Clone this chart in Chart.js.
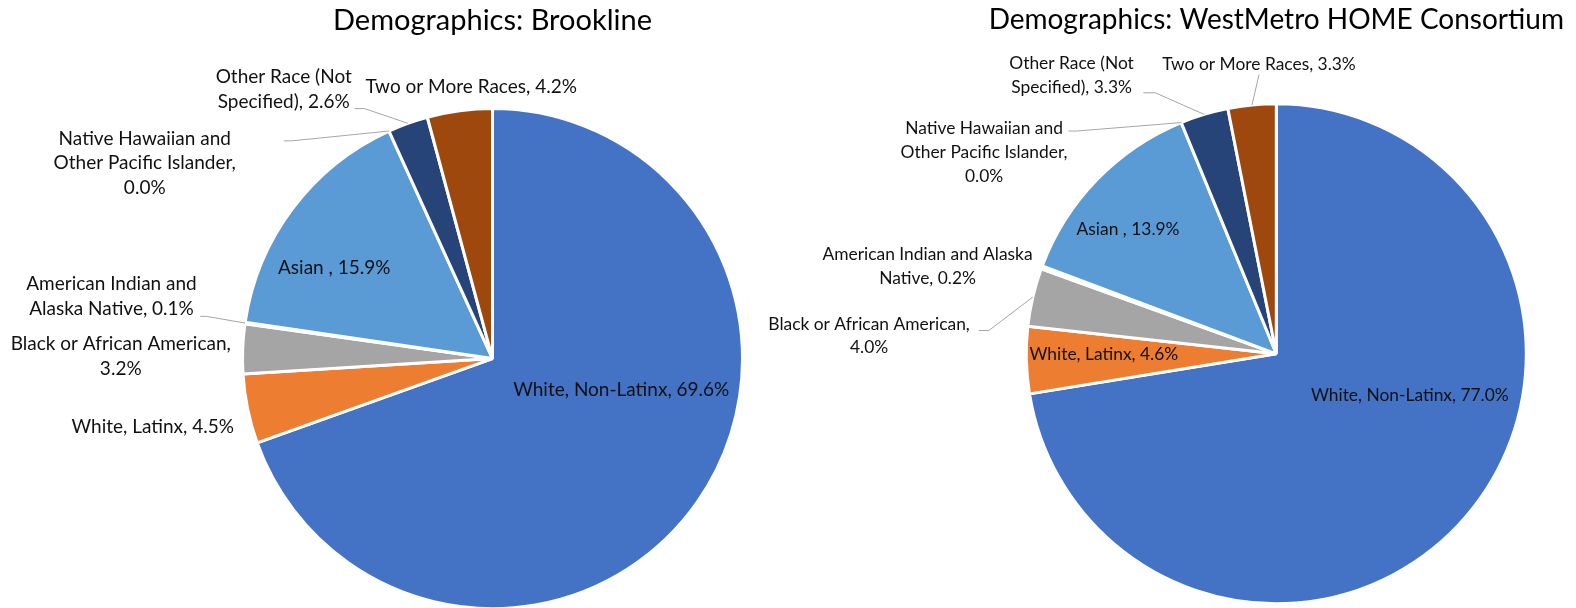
<!DOCTYPE html>
<html>
<head>
<meta charset="utf-8">
<script src="https://cdn.jsdelivr.net/npm/chart.js@4/dist/chart.umd.min.js"></script>
<style>
  body { margin: 0; background: #fff; overflow: hidden; }
  .wrap { position: absolute; top: 0; }
</style>
</head>
<body>
<div class="wrap" style="left:0;width:788px;height:612px"><canvas id="brookline"></canvas></div>
<div class="wrap" style="left:700px;width:876px;height:608px"><canvas id="westmetro"></canvas></div>
<script>
"use strict";
const categories = [
    'White, Non-Latinx',
    'White, Latinx',
    'Black or African American',
    'American Indian and Alaska Native',
    'Asian ',
    'Native Hawaiian and Other Pacific Islander',
    'Other Race (Not Specified)',
    'Two or More Races'
];
const brooklineValues = [69.6, 4.5, 3.2, 0.1, 15.9, 0.0, 2.6, 4.2];
const westMetroValues = [77.0, 4.6, 4.0, 0.2, 13.9, 0.0, 3.3, 3.3];
const sliceColors = ['#4472C4', '#ED7D31', '#A5A5A5', '#FFC000', '#5B9BD5', '#70AD47', '#264478', '#9E480E'];

const FONT = 'Lato, "Open Sans", sans-serif';

// label placement, in units of the pie radius from its centre
// br = word counts where a line breaks, from = leader line start
const brooklinePlace = [
    { at: [0.515, 0.126] },
    { at: [-1.359, 0.274] },
    { at: [-1.487, -0.010], br: [4] },
    { at: [-1.524, -0.250], br: [3], from: [-1.169, -0.169], stub: 6 },
    { at: [-0.633, -0.363] },
    { at: [-1.391, -0.782], br: [3, 6], from: [-0.835, -0.871], stub: 8 },
    { at: [-0.835, -1.077], br: [3], from: [-0.552, -1.0], stub: 10 },
    { at: [-0.085, -1.087] }
];
const westMetroPlace = [
    { at: [0.534, 0.166] },
    { at: [-0.690, 0.004] },
    { at: [-1.629, -0.071], br: [4], from: [-1.190, -0.093], stub: 10 },
    { at: [-1.395, -0.349], br: [4] },
    { at: [-0.593, -0.496] },
    { at: [-1.169, -0.806], br: [3, 6], from: [-0.831, -0.891], stub: 8 },
    { at: [-0.819, -1.113], br: [3], from: [-0.532, -1.044], stub: 12 },
    { at: [-0.069, -1.157], from: [-0.069, -1.117], stub: 0 }
];

const pieLabels = {
    id: 'pieLabels',
    afterDatasetsDraw(chart, args, opts) {
        const ctx = chart.ctx;
        const meta = chart.getDatasetMeta(0);
        const values = chart.data.datasets[0].data;
        ctx.save();
        ctx.font = opts.size + 'px ' + FONT;
        ctx.textAlign = 'center';
        ctx.textBaseline = 'middle';
        meta.data.forEach((arc, i) => {
            const p = opts.place[i];
            const { x, y, startAngle, endAngle, outerRadius } =
                arc.getProps(['x', 'y', 'startAngle', 'endAngle', 'outerRadius'], true);
            const r = outerRadius;

            if (p.from) {
                const mid = (startAngle + endAngle) / 2;
                const sx = x + r * p.from[0], sy = y + r * p.from[1];
                ctx.beginPath();
                ctx.strokeStyle = '#A6A6A6';
                ctx.lineWidth = 1;
                ctx.moveTo(sx, sy);
                ctx.lineTo(sx + p.stub, sy);
                ctx.lineTo(x + r * Math.cos(mid), y + r * Math.sin(mid));
                ctx.stroke();
            }

            const words = (chart.data.labels[i] + ', ' + values[i].toFixed(1) + '%').split(' ');
            const cuts = [0].concat(p.br || [], [words.length]);
            const lines = [];
            for (let k = 0; k < cuts.length - 1; k++) {
                lines.push(words.slice(cuts[k], cuts[k + 1]).join(' '));
            }
            const cx = x + r * p.at[0];
            const cy = y + r * p.at[1];
            ctx.fillStyle = '#111';
            lines.forEach((line, k) => {
                ctx.fillText(line, cx, cy + (k - (lines.length - 1) / 2) * opts.lineHeight);
            });
        });
        ctx.restore();
    }
};

function makePie(id, title, titleSize, values, place, labelSize, lineHeight, padding, titlePadBottom) {
    const ctx = document.getElementById(id).getContext('2d');
    return new Chart(ctx, {
        type: 'pie',
        data: {
            labels: categories,
            datasets: [{
                data: values,
                backgroundColor: sliceColors,
                borderColor: '#ffffff',
                borderWidth: 3,
                hoverOffset: 0
            }]
        },
        options: {
            responsive: true,
            maintainAspectRatio: false,
            animation: false,
            events: [],
            layout: { padding: padding },
            plugins: {
                legend: { display: false },
                tooltip: { enabled: false },
                title: {
                    display: true,
                    text: title,
                    color: '#000',
                    font: { family: FONT, size: titleSize, weight: 'normal', lineHeight: 34.8 / titleSize },
                    padding: { top: 3, bottom: titlePadBottom }
                },
                pieLabels: { place: place, size: labelSize, lineHeight: lineHeight }
            }
        },
        plugins: [pieLabels]
    });
}

makePie('brookline', 'Demographics: Brookline', 29, brooklineValues, brooklinePlace,
    19, 24.6, { left: 197, right: 0, top: 0, bottom: 1.9 }, 69.3);
makePie('westmetro', 'Demographics: WestMetro HOME Consortium', 28, westMetroValues, westMetroPlace,
    17.4, 23.6, { left: 276.6, right: 0, top: 0, bottom: 2.7 }, 64.5);
</script>
</body>
</html>
